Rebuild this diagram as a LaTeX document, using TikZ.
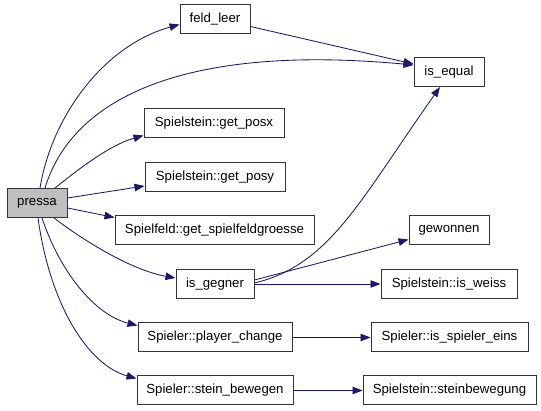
\documentclass[tikz,border=0pt]{standalone}
\usepackage{fontspec}
\setmainfont{Liberation Sans}
\usetikzlibrary{arrows.meta,calc}
\definecolor{edgeblue}{RGB}{25,25,112}
\definecolor{nodegray}{RGB}{191,191,191}
\begin{document}
\begin{tikzpicture}[x=1pt,y=-1pt,
  fn/.style={draw=black!80,line width=1pt,fill=white,rectangle,inner sep=0pt,
    font=\fontsize{13.2}{15}\selectfont,minimum height=29pt},
  edge/.style={draw=edgeblue,line width=0.85pt,-{Triangle[length=10pt,width=7.5pt]}}]
\useasboundingbox (0,0) rectangle (541,411);
\node[fn,fill=nodegray,minimum width=60pt] (pressa) at (37,203) {pressa};
\node[fn,minimum width=70pt] (feld) at (215,19.5) {feld\_leer};
\node[fn,minimum width=70pt] (iseq) at (449,72) {is\_equal};
\node[fn,minimum width=140pt] (posx) at (214,123.5) {Spielstein::get\_posx};
\node[fn,minimum width=140pt] (posy) at (215,177) {Spielstein::get\_posy};
\node[fn,minimum width=199pt] (groesse) at (214.5,230.5) {Spielfeld::get\_spielfeldgroesse};
\node[fn,minimum width=78pt] (gegner) at (215,284) {is\_gegner};
\node[fn,minimum width=154pt] (change) at (215,337.5) {Spieler::player\_change};
\node[fn,minimum width=156pt] (bewegen) at (215,390.5) {Spieler::stein\_bewegen};
\node[fn,minimum width=80pt] (gewonnen) at (449,230.5) {gewonnen};
\node[fn,minimum width=136pt] (weiss) at (449,284) {Spielstein::is\_weiss};
\node[fn,minimum width=157pt] (eins) at (449.5,337.5) {Spieler::is\_spieler\_eins};
\node[fn,minimum width=173pt] (steinb) at (449.5,390.5) {Spielstein::steinbewegung};

\draw[edge] ($(pressa.north)+(3,0)$) .. controls (52,115) and (105,45) .. ($(feld.west)+(0,5)$);
\draw[edge] ($(pressa.north)+(8,0)$) .. controls (75,90) and (200,45) .. ($(iseq.west)+(0,-7)$);
\draw[edge] ($(feld.east)+(0,7)$) -- ($(iseq.west)+(0,-8)$);
\draw[edge] ($(pressa.north)+(18,0)$) .. controls (80,168) and (110,145) .. ($(posx.south west)+(0,-3)$);
\draw[edge] ($(pressa.east)+(0,-5)$) -- ($(posy.west)+(0,9)$);
\draw[edge] ($(pressa.east)+(0,5)$) -- ($(groesse.north west)+(0,2)$);
\draw[edge] ($(pressa.south)+(17,0)$) .. controls (80,238) and (130,270) .. ($(gegner.west)+(0,-6)$);
\draw[edge] ($(pressa.south)+(5,0)$) .. controls (60,272) and (95,315) .. ($(change.north west)+(0,3)$);
\draw[edge] ($(pressa.south)+(1,0)$) .. controls (50,305) and (88,365) .. ($(bewegen.north west)+(0,3)$);
\draw[edge] ($(gegner.east)+(0,-4)$) -- ($(gewonnen.west)+(0,9)$);
\draw[edge] ($(gegner.east)+(0,-1)$) .. controls (330,265) and (360,200) .. ($(iseq.south)+(-9,0)$);
\draw[edge] (gegner.east) -- (weiss.west);
\draw[edge] (change.east) -- (eins.west);
\draw[edge] (bewegen.east) -- (steinb.west);
\end{tikzpicture}
\end{document}
